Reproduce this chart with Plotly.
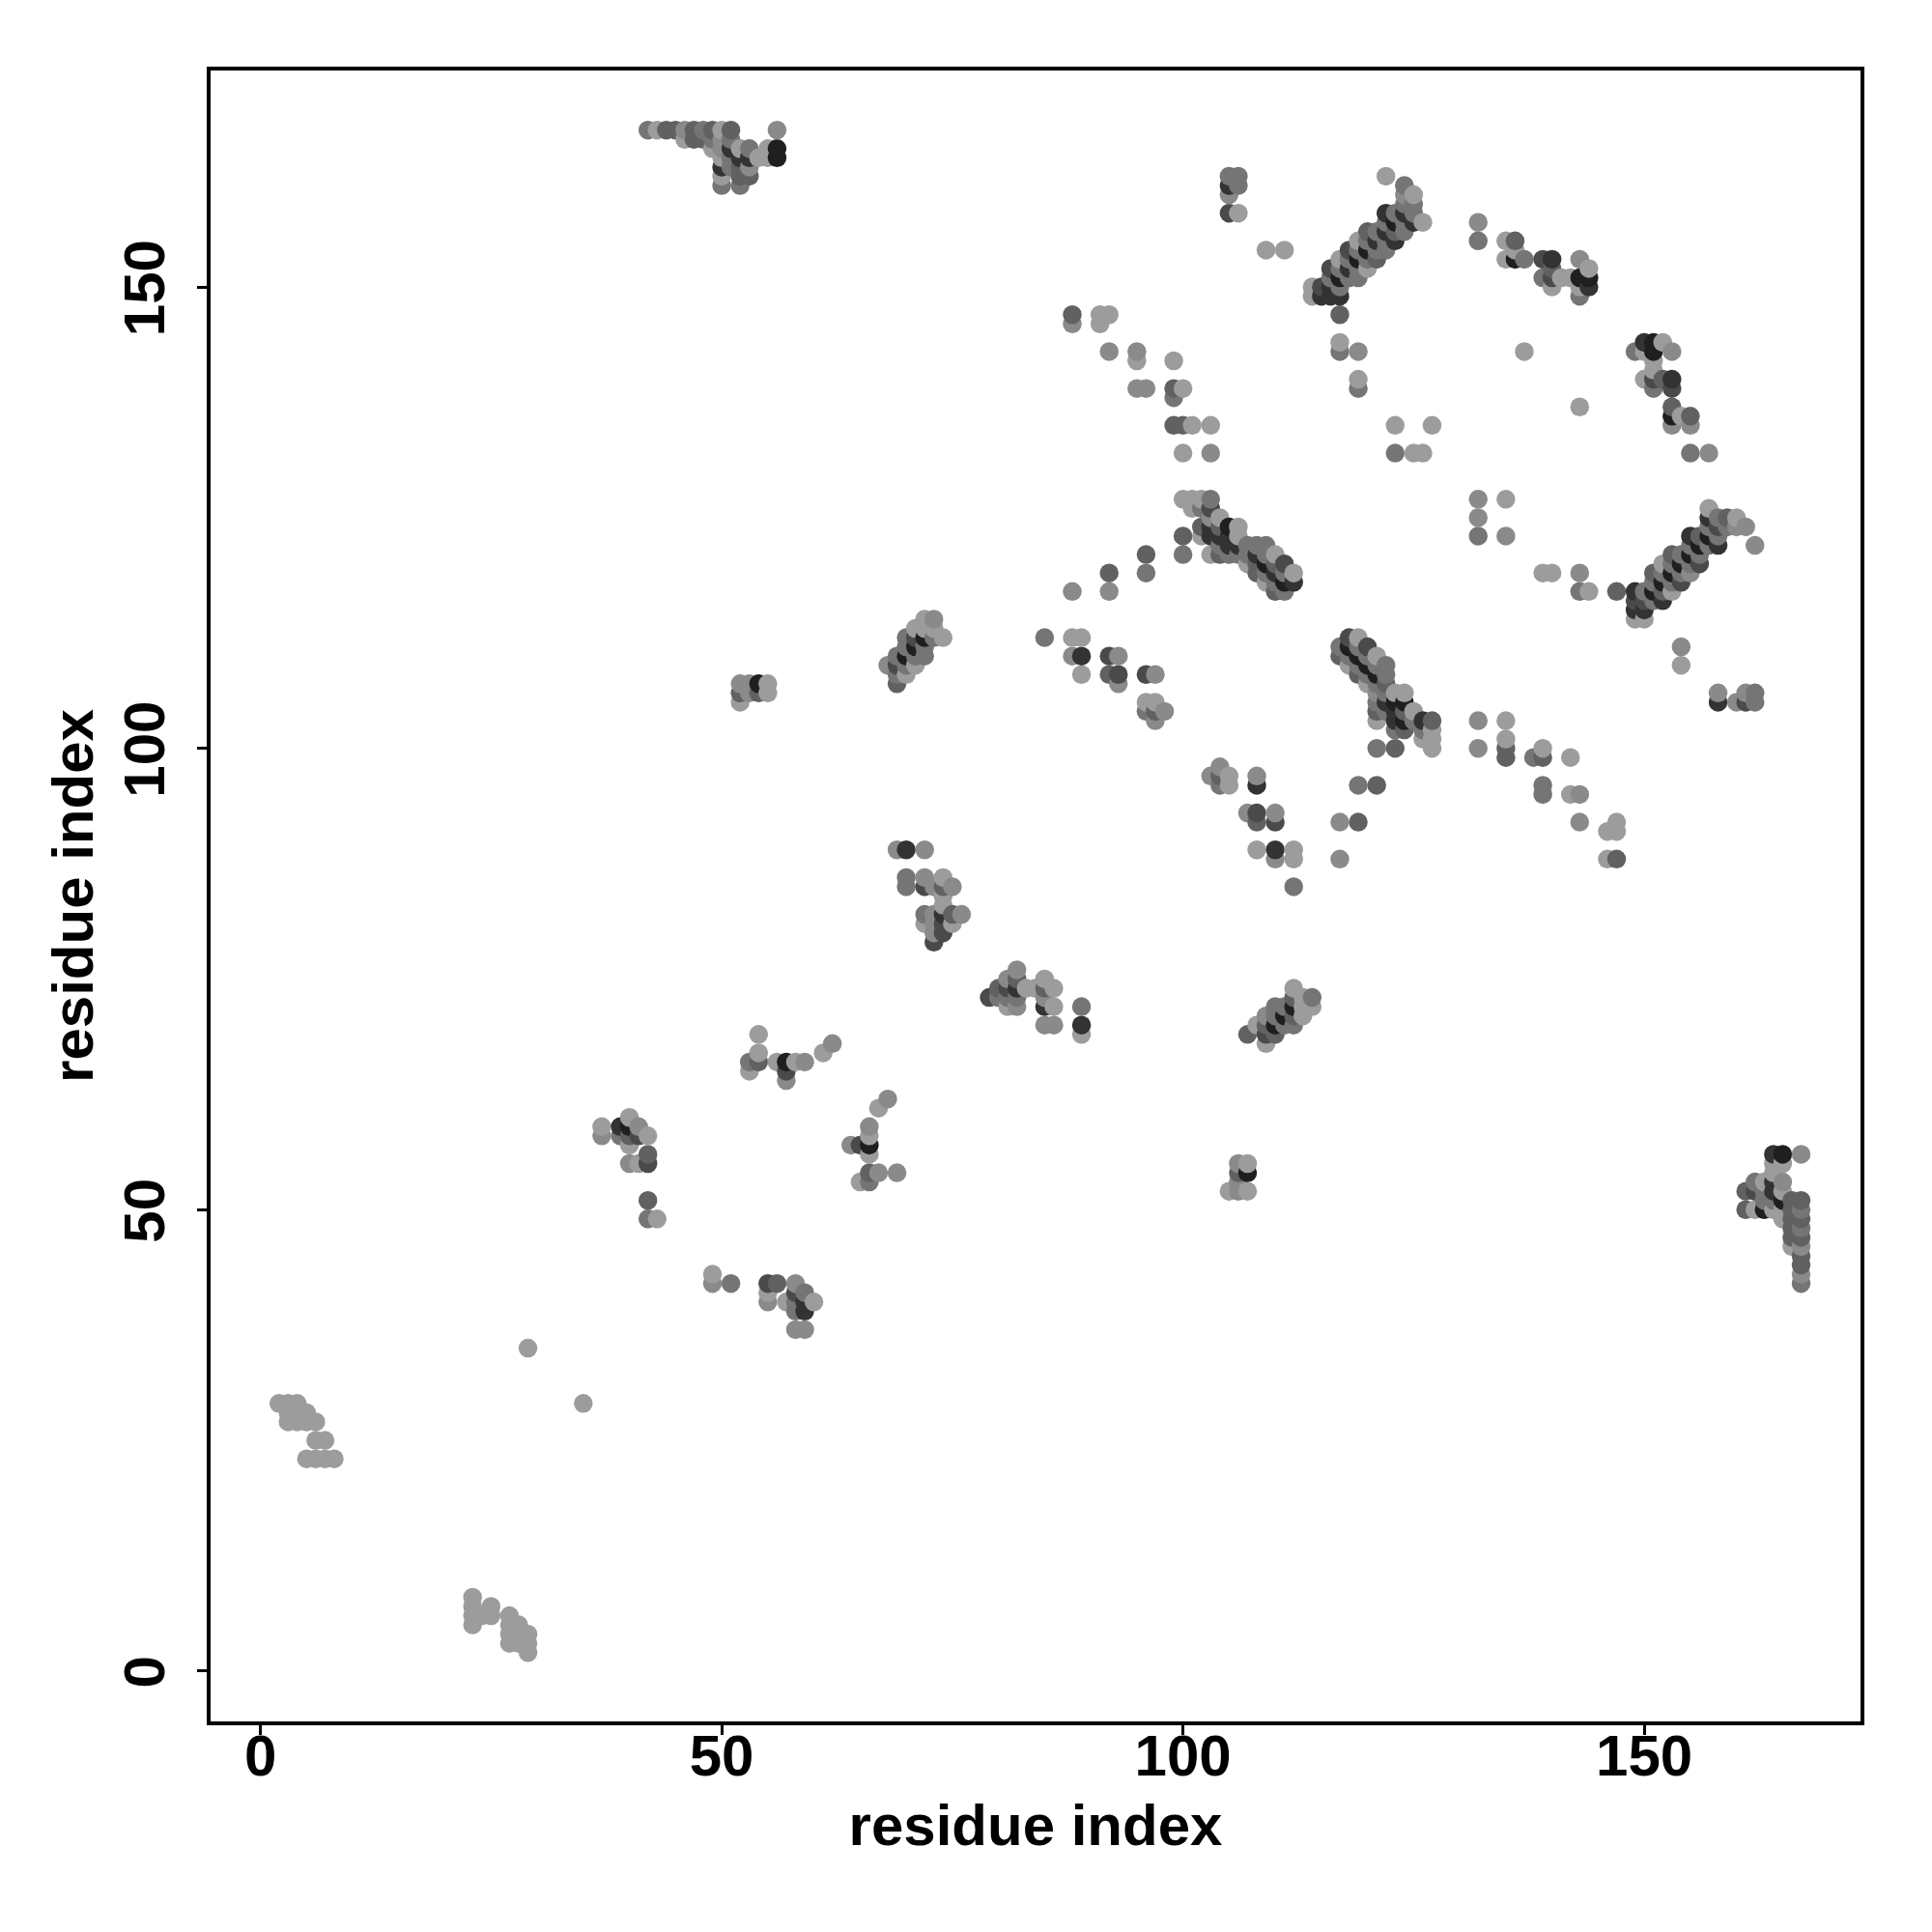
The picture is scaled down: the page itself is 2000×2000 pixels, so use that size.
import plotly.graph_objects as go

# contact strength levels (0 = white, 100 = black)
L, M, N, O, P, Q, R = 39, 46, 54, 62, 71, 80, 88

x_ticks = [0, 50, 100, 150]
y_ticks = [0, 50, 100, 150]
x_label = "residue index"
y_label = "residue index"

# each contact: (residue i, residue j, strength)
low_left = [(2,29,L),(3,29,L),(4,29,L),(3,28,L),(3,27,L),(4,28,L),(4,27,L),(5,28,L),(5,27,L),(6,27,L),(6,25,L),(7,25,L),
            (5,23,L),(6,23,L),(7,23,L),(8,23,L),(29,35,L),(35,29,L),
            (23,8,L),(23,7,L),(23,6,L),(23,5,L),(24,6,L),(25,7,L),(25,6,L),(27,6,L),(27,5,L),(27,4,L),(27,3,L),
            (28,5,L),(28,4,L),(28,3,L),(29,4,L),(29,3,L),(29,2,L)]

top_strand = [(42,167,N),(43,167,L),(44,167,O),(45,167,O),(46,167,M),(47,167,O),(48,167,N),(49,167,O),(50,167,L),(51,167,O),
              (46,166,L),(47,166,O),(48,166,O),(49,166,N),(50,166,M),(51,166,N),
              (49,165,L),(50,165,M),(51,165,Q),(52,165,L),(53,165,N),(55,165,L),(56,165,R),(56,167,M),
              (50,164,L),(51,164,N),(52,164,Q),(53,164,Q),(54,164,L),(55,164,L),(56,164,R),
              (50,163,Q),(51,163,N),(52,163,O),(53,163,M),(50,162,L),(52,162,O),(53,162,O),(50,161,N),(52,161,N)]

helix_a = [(114,149,L),(114,150,L),(115,149,Q),(115,150,P),(116,149,Q),(116,150,Q),(116,151,N),(116,152,P),
           (117,147,O),(117,149,Q),(117,150,N),(117,151,R),(117,152,N),(117,153,L),
           (118,151,N),(118,152,Q),(118,153,N),(118,154,P),
           (119,151,N),(119,152,N),(119,153,R),(119,154,N),(119,155,L),
           (120,152,L),(120,153,N),(120,154,R),(120,155,N),(120,156,O),
           (121,153,O),(121,154,N),(121,155,Q),(121,156,N),
           (122,154,N),(122,155,N),(122,156,Q),(122,157,N),(122,158,Q),(122,162,L),
           (123,155,Q),(123,156,O),(123,157,R),(123,158,N),
           (124,156,N),(124,157,N),(124,158,Q),(124,159,N),(124,160,M),(124,161,N),
           (125,157,Q),(125,158,N),(125,159,N),(125,160,L),(126,157,L),
           (105,162,N),(106,162,N),(105,161,Q),(106,161,N),(105,160,M),(105,158,P),(106,158,L),(109,154,L),(111,154,L),
           (117,144,L),(117,143,N),(119,143,M),(119,140,L),(119,139,N),(123,135,L),(127,135,L),(123,132,N),(125,132,L),(126,132,L)]

top_right = [(132,157,M),(132,155,N),(135,155,L),(136,155,O),(136,154,L),(135,153,L),(136,153,R),(137,153,N),
             (139,153,P),(140,153,Q),(140,152,O),(139,151,N),(140,151,P),(140,150,L),(141,151,L),(142,151,L),
             (143,153,M),(143,151,R),(144,152,L),(144,151,R),(144,150,Q),(143,150,L),(143,149,N),(137,143,L),(143,137,L),
             (149,143,N),(150,144,Q),(150,143,L),(151,144,R),(151,143,R),(152,144,L),(153,143,M),(151,142,L),(151,141,L),
             (150,140,L),(151,140,P),(151,139,N),(152,140,O),(153,140,Q),(153,139,P),(153,137,O),(153,136,R),(153,135,M),
             (154,136,L),(155,136,O),(155,135,M),(155,132,N),(157,132,M)]

anti_mid = [(88,147,O),(88,146,M),(91,147,L),(92,147,L),(91,146,L),(92,143,M),(95,143,M),(95,142,L),(99,142,L),
            (95,139,M),(96,139,M),(99,139,O),(100,139,L),(99,138,N),(99,135,O),(100,135,O),(101,135,L),(103,135,L),
            (100,132,L),(103,132,M),(132,127,M),(132,125,M),(132,123,N),(135,127,L),(135,123,M),
            (139,119,L),(140,119,L),(143,119,M),(143,117,N),(144,117,L),(147,117,O)]

helix_b = [(100,127,L),(101,127,L),(102,127,L),(103,127,N),(101,126,L),(102,126,N),(103,126,P),(102,124,O),(102,123,L),
           (100,123,O),(100,121,N),(103,121,L),(103,125,M),(104,125,L),(103,124,Q),(103,123,Q),(104,124,O),(104,123,Q),
           (104,122,N),(104,121,O),(105,124,R),(105,123,Q),(105,122,Q),(105,121,N),(106,124,L),(106,123,L),(106,122,Q),(106,121,N),
           (107,122,N),(107,121,N),(107,120,L),(108,122,N),(108,121,Q),(108,120,O),(108,119,O),
           (109,122,N),(109,121,N),(109,120,R),(109,119,N),(109,118,L),
           (110,121,L),(110,120,O),(110,119,Q),(110,118,N),(110,117,O),
           (111,120,P),(111,119,N),(111,118,R),(111,117,N),(112,119,L),(112,118,Q),
           (96,121,O),(96,119,N),(92,119,O),(88,117,M),(92,117,M)]

helix_c = [(149,117,Q),(149,116,P),(149,115,Q),(149,114,L),(150,114,L),
           (150,115,Q),(150,116,P),(150,117,N),
           (151,116,N),(151,117,R),(151,118,N),(151,119,O),
           (152,116,Q),(152,117,O),(152,118,R),(152,119,N),(152,120,L),
           (153,117,L),(153,118,N),(153,119,R),(153,120,N),(153,121,O),
           (154,118,P),(154,119,N),(154,120,R),(154,121,N),
           (155,119,M),(155,120,N),(155,121,R),(155,122,N),(155,123,Q),
           (156,120,P),(156,121,N),(156,122,R),(156,123,O),
           (157,122,N),(157,123,R),(157,124,N),(157,125,Q),(157,126,L),
           (158,122,Q),(158,123,N),(158,124,P),(158,125,N),
           (159,124,N),(159,125,O),(160,124,M),(160,125,L),(161,124,M),(162,122,M)]

helix_d = [(117,111,N),(117,110,O),(118,112,P),(118,111,R),(118,110,N),(118,109,L),
           (119,112,L),(119,111,N),(119,110,R),(119,109,N),(119,108,O),
           (120,111,P),(120,110,N),(120,109,R),(120,108,N),(120,107,L),
           (121,110,L),(121,109,N),(121,108,R),(121,107,N),(121,106,M),(121,105,N),(121,104,O),(121,103,L),
           (122,109,N),(122,108,N),(122,107,O),(122,106,N),(122,105,Q),(122,104,N),
           (123,106,L),(123,105,R),(123,104,Q),(123,103,Q),(123,102,N),
           (124,106,L),(124,105,R),(124,104,O),(124,103,R),(124,102,O),
           (125,104,L),(125,103,N),(126,103,Q),(126,102,N),(126,101,L),
           (127,103,O),(127,102,L),(127,101,L),(127,100,L),(121,100,N),(123,100,O)]

anti_right = [(132,103,M),(132,100,M),(135,103,L),(135,101,L),(135,100,O),(135,99,O),(138,99,N),(139,100,L),(139,99,O),(142,99,L),
              (139,96,N),(139,95,N),(142,95,L),(143,95,M),(143,92,M),(146,91,L),(147,92,L),(147,91,L),(146,88,L),(147,88,O),
              (119,96,N),(121,96,O),(117,92,M),(119,92,O),(117,88,M),
              (154,111,M),(154,109,L),(158,106,M),(158,105,Q),(160,105,M),(161,106,M),(161,105,P),(162,106,N),(162,105,N)]

anti_low = [(85,112,N),(88,112,L),(89,112,L),(88,110,M),(89,110,Q),(92,110,P),(93,110,M),(89,108,L),(92,108,O),(93,108,P),(93,107,M),
            (96,108,P),(97,108,M),(96,105,L),(97,105,L),(96,104,N),(97,104,O),(98,104,M),(97,103,M),
            (103,97,M),(104,98,M),(104,97,O),(104,96,N),(105,97,L),(105,96,L),(108,97,M),(108,96,Q),
            (107,93,M),(108,93,P),(108,92,O),(110,93,M),(110,92,P),(108,89,L),(110,89,Q),(110,88,M),(112,89,L),(112,88,L),(112,85,N)]

helix_e = [(52,107,M),(52,106,O),(52,105,L),(53,107,M),(53,106,M),(54,107,R),(54,106,O),(55,107,L),(55,106,L),
           (69,107,O),(68,109,M),(69,110,N),(69,109,P),(69,108,N),
           (70,112,N),(70,111,N),(70,110,R),(70,109,N),(70,108,L),
           (71,113,L),(71,112,P),(71,111,R),(71,110,N),(71,109,L),
           (72,114,L),(72,113,L),(72,112,R),(72,111,N),(72,110,N),(73,114,M),(73,113,L),(73,112,N),(74,112,L)]

mid_turns = [(69,89,M),(70,89,Q),(72,89,M),(70,86,N),(70,85,N),(72,86,M),(72,85,P),(73,85,M),(74,86,L),(74,85,O),(75,85,M),(74,84,L),(74,83,L),
             (72,82,N),(72,81,L),(73,82,M),(73,81,M),(73,80,M),(73,79,P),(74,82,Q),(74,81,P),(74,80,P),(75,82,O),(75,81,L),(76,82,M),
             (79,73,P),(80,74,O),(80,73,N),(81,75,M),(81,74,P),(81,73,N),(81,72,L),
             (82,76,M),(82,75,O),(82,74,Q),(82,73,N),(82,72,M),(83,74,L),(84,74,L),
             (85,75,L),(85,74,O),(85,73,M),(85,72,Q),(85,70,M),(86,74,L),(86,72,L),(86,70,M),(89,72,N),(89,70,Q),(89,69,L)]

helix_f = [(107,69,O),(108,70,L),(109,71,M),(109,70,O),(109,69,P),(109,68,L),
           (110,72,N),(110,71,N),(110,70,R),(110,69,O),(111,72,N),(111,71,R),(111,70,N),
           (112,74,L),(112,73,O),(112,72,R),(112,71,O),(112,70,N),(113,73,L),(113,72,L),(113,71,L),(114,73,N),(114,72,L)]

lower_mid = [(54,69,L),(54,67,L),(53,66,N),(54,66,O),(53,65,L),(56,66,L),(57,66,R),(57,65,P),(57,64,M),(58,66,L),(59,66,M),(61,67,L),(62,68,M),
             (67,61,L),(68,62,M),(66,59,M),(66,58,L),(64,57,M),(65,57,P),(66,57,R),(66,56,L),(66,54,O),(67,54,M),(69,54,M),(65,53,L),(66,53,N),
             (37,59,L),(37,58,M),(39,59,Q),(39,58,N),(40,60,L),(40,59,R),(40,58,O),(40,57,L),(41,59,M),(41,58,P),(42,58,L),
             (40,55,M),(41,55,L),(42,56,O),(42,55,P),(42,51,O),(42,49,N),(43,49,L),
             (49,43,L),(49,42,M),(51,42,N),(55,42,P),(56,42,O),(55,41,L),(55,40,M),(57,40,L),
             (58,42,M),(58,41,P),(58,40,N),(58,39,N),(59,41,N),(59,40,Q),(59,39,Q),(60,40,L),(58,37,M),(59,37,M)]

corner = [(106,55,M),(107,55,L),(106,54,O),(107,54,R),(105,52,L),(106,53,M),(106,52,M),(107,52,L),
          (164,56,Q),(165,56,R),(167,56,M),(164,55,L),(165,55,L),(164,54,L),(165,53,M),(164,53,Q),(163,53,L),(162,53,N),
          (161,52,O),(162,52,P),(163,52,N),(164,52,Q),(165,52,L),(163,51,N),(164,51,N),(165,51,R),
          (161,50,O),(162,50,L),(163,50,R),(164,50,L),(165,50,L),(165,49,L),
          (166,51,O),(167,51,O),(166,50,O),(167,50,N),(166,49,O),(167,49,O),(166,48,O),(167,48,N),(166,47,O),(167,47,O),
          (166,46,L),(167,46,M),(167,45,O),(167,44,O),(167,43,M),(167,42,N)]

contacts = sorted(low_left + top_strand + helix_a + top_right + anti_mid + helix_b + helix_c + helix_d + anti_right
                  + anti_low + helix_e + mid_turns + helix_f + lower_mid + corner, key=lambda c: (c[0], c[1]))

fig = go.Figure(go.Scatter(
    x=[c[0] for c in contacts], y=[c[1] for c in contacts], mode="markers",
    marker=dict(size=19.5, line=dict(width=0), color=[c[2] for c in contacts], cmin=0, cmax=100,
                colorscale=[[0, "#ffffff"], [1, "#000000"]], showscale=False, opacity=1),
    showlegend=False, hoverinfo="skip"))

font = dict(family="Liberation Sans", size=60, color="#000000")
axis = dict(showgrid=False, zeroline=False, showline=True, mirror=True, linecolor="#000000", linewidth=3.5,
            ticks="outside", ticklen=10, tickwidth=3, tickcolor="#000000",
            tickfont=dict(family="Liberation Sans", size=60, color="#000000"))
fig.update_xaxes(range=[-5.4, 173.44], tickvals=x_ticks, ticktext=[f"<b>{t}</b>" for t in x_ticks], ticklabelstandoff=-30,
                 title=dict(text=f"<b>{x_label}</b>", font=font, standoff=19), **axis)
fig.update_yaxes(range=[-5.46, 173.46], tickvals=y_ticks, ticktext=[f"<b>{t}</b>" for t in y_ticks], tickangle=-90, ticklabelstandoff=10,
                 ticklabelshift=10, title=dict(text=f"<b>{y_label}</b>", font=font, standoff=1), **axis)
fig.update_layout(width=2000, height=2000, autosize=False, paper_bgcolor="white", plot_bgcolor="white",
                  margin=dict(l=210, r=81.5, t=65.3, b=226.3, autoexpand=False))
fig.write_html("out.html")
